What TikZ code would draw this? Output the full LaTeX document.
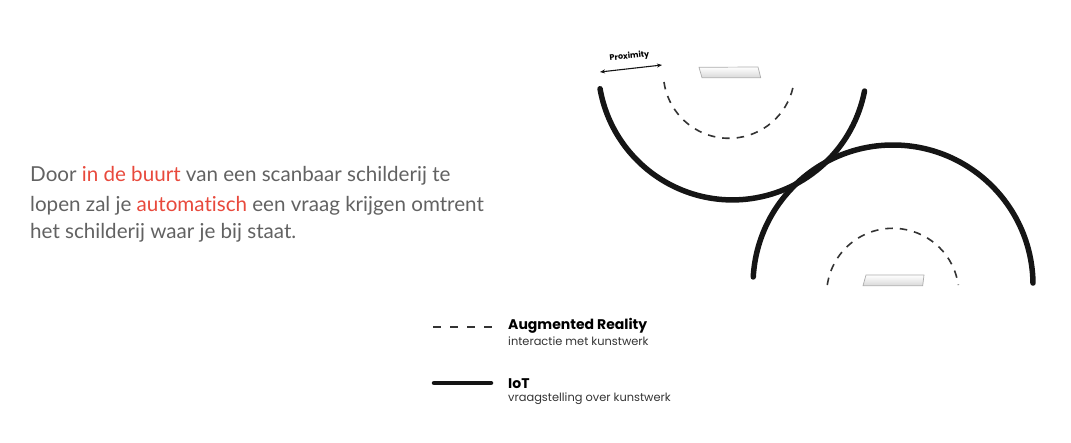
\documentclass[tikz,border=0pt]{standalone}
\usepackage{fontspec}
\setmainfont{Lato}[Ligatures={NoCommon,NoContextual}]
\newfontfamily\legfont{Poppins}[Ligatures={NoCommon,NoContextual}]
\usetikzlibrary{arrows.meta}
\definecolor{txtgray}{HTML}{626262}
\definecolor{hlred}{HTML}{E8493C}
\definecolor{iotblack}{HTML}{151515}
\definecolor{argray}{HTML}{333333}
\tikzset{
  iot/.style={line width=5.5pt, draw=iotblack, line cap=round},
  arline/.style={line width=1.6pt, draw=argray, dash pattern=on 7.5pt off 7pt},
  painting/.style={draw=gray!65, line width=0.7pt, top color=white, bottom color=gray!30},
  bodytext/.style={anchor=base west, inner sep=0pt, text=txtgray, font=\fontsize{20.6}{24}\selectfont},
  legtitle/.style={anchor=base west, inner sep=0pt, text=black, font=\legfont\bfseries\fontsize{14}{16}\selectfont},
  legsub/.style={anchor=base west, inner sep=0pt, text=black!80, font=\legfont\fontsize{11.4}{13}\selectfont},
}
\begin{document}
\begin{tikzpicture}[x=1pt,y=1pt]
\useasboundingbox (0,0) rectangle (1071,442);
% body text
\node[bodytext] (l1) at (30,260.3) {Door \textcolor{hlred}{in de buurt} van een scanbaar schilderij te};
\node[bodytext] (l2) at (30,230.8) {lopen zal je \textcolor{hlred}{automatisch} een vraag krijgen omtrent};
\node[bodytext] (l3) at (30,203) {het schilderij waar je bij staat.};
% IoT arcs
\draw[iot] (732.5,376.6) ++(190:134.5) arc[start angle=190, end angle=349, radius=134.5];
\draw[iot] (893,157) ++(176.7:140) arc[start angle=176.7, end angle=0.8, radius=140];
% AR arcs
\draw[arline] (729,369.4) ++(188.2:65.7) arc[start angle=188.2, end angle=351.8, radius=65.7];
\draw[arline] (892.8,147.5) ++(171.8:66.2) arc[start angle=171.8, end angle=8.2, radius=66.2];
% paintings
\path[painting] (699,374.7) -- (758,375) -- (760.7,364.3) -- (702,364.3) -- cycle;
\path[painting] (866,167) -- (924,167) -- (922.7,156.3) -- (863,156.3) -- cycle;
% proximity
\coordinate (pa) at (600,370);
\coordinate (pb) at (662,377);
\draw[line width=1.1pt, draw=iotblack, {Stealth[length=5pt,width=4pt]}-{Stealth[length=5pt,width=4pt]}] (pa) -- (pb);
\node[rotate=6, inner sep=0pt, font=\legfont\bfseries\fontsize{8}{9}\selectfont] (prox) at (629.5,385.5) {Proximity};
% legend
\coordinate (d1) at (433,115);
\coordinate (d2) at (492,115);
\draw[line width=1.3pt, draw=argray, dash pattern=on 7.5pt off 9.5pt] (d1) -- (d2);
\coordinate (s1) at (434,59);
\coordinate (s2) at (491,59);
\draw[line width=4.5pt, draw=iotblack, line cap=round] (s1) -- (s2);
\node[legtitle] (ar) at (508,112) {Augmented Reality};
\node[legsub] (ars) at (508,96) {interactie met kunstwerk};
\node[legtitle] (io) at (508,53) {IoT};
\node[legsub] (ios) at (508,40.5) {vraagstelling over kunstwerk};
\end{tikzpicture}
\end{document}
